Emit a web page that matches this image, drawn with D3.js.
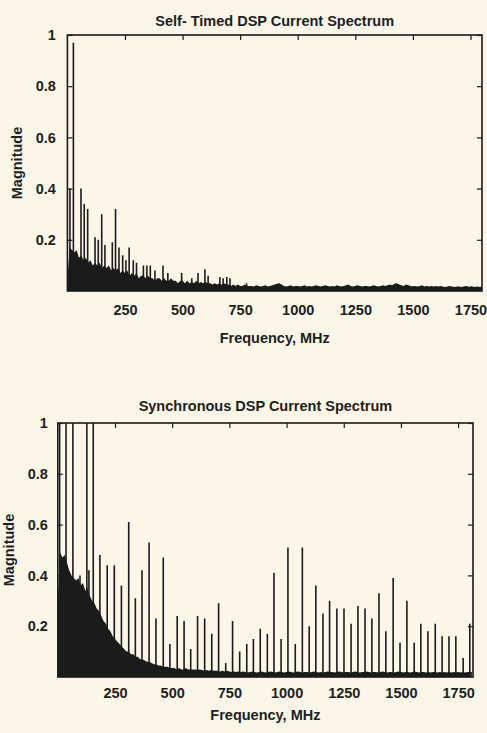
<!DOCTYPE html>
<html>
<head>
<meta charset="utf-8">
<script src="https://cdn.jsdelivr.net/npm/d3@7"></script>
<style>
    body { margin: 0; background: #fbf6e8; }
    svg { display: block; }
    text { font-family: "Liberation Sans", Arial, Helvetica, sans-serif; font-weight: bold; font-size: 14.5px; fill: #1e1e1e; }
</style>
</head>
<body>
<div id="chart"></div>
<script>
const INK = '#1b1b1b';
const FLOOR_STEP = 10; // MHz between noise-floor samples

const xTicks = [250, 500, 750, 1000, 1250, 1500, 1750];
const yTicks = [0.2, 0.4, 0.6, 0.8, 1];

// Self-timed DSP: discrete lines (MHz, magnitude)
const timedFreq = [11, 26, 59, 73, 88, 120, 134, 149, 163, 195, 209, 224, 240, 254, 268, 286, 300,
    330, 345, 360, 380, 415, 436, 496, 540, 567, 597, 611, 662, 676, 692, 706, 778];
const timedMag = [0.40, 0.97, 0.40, 0.34, 0.32, 0.21, 0.20, 0.30, 0.18, 0.19, 0.32, 0.17, 0.14, 0.12, 0.17, 0.12, 0.11,
    0.10, 0.10, 0.10, 0.08, 0.10, 0.07, 0.07, 0.05, 0.07, 0.085, 0.06, 0.055, 0.05, 0.055, 0.05, 0.03];

// Self-timed DSP: broadband floor, one value every 10 MHz from 0 to 1800
const timedFloor = [
    0.05, 0.17, 0.16, 0.15, 0.16, 0.13, 0.14, 0.12, 0.13, 0.11,
    0.12, 0.10, 0.11, 0.10, 0.11, 0.09, 0.10, 0.09, 0.10, 0.08,
    0.09, 0.08, 0.09, 0.07, 0.08, 0.07, 0.08, 0.06, 0.07, 0.06,
    0.07, 0.05, 0.06, 0.06, 0.05, 0.06, 0.05, 0.05, 0.04, 0.05,
    0.05, 0.04, 0.05, 0.04, 0.04, 0.05, 0.04, 0.04, 0.03, 0.04,
    0.04, 0.03, 0.04, 0.03, 0.035, 0.03, 0.04, 0.03, 0.035, 0.03,
    0.035, 0.03, 0.03, 0.025, 0.03, 0.025, 0.03, 0.025, 0.03, 0.025,
    0.025, 0.02, 0.025, 0.02, 0.025, 0.02, 0.02, 0.025, 0.02, 0.02,
    0.02, 0.018, 0.022, 0.02, 0.018, 0.02, 0.022, 0.018, 0.02, 0.022,
    0.025, 0.028, 0.03, 0.025, 0.02, 0.018, 0.02, 0.022, 0.018, 0.02,
    0.02, 0.018, 0.02, 0.022, 0.018, 0.02, 0.018, 0.02, 0.022, 0.02,
    0.018, 0.02, 0.022, 0.02, 0.018, 0.02, 0.018, 0.022, 0.02, 0.018,
    0.02, 0.022, 0.025, 0.02, 0.018, 0.02, 0.022, 0.02, 0.018, 0.02,
    0.02, 0.018, 0.02, 0.022, 0.02, 0.018, 0.02, 0.022, 0.02, 0.022,
    0.025, 0.022, 0.028, 0.03, 0.025, 0.022, 0.02, 0.025, 0.022, 0.02,
    0.018, 0.02, 0.018, 0.02, 0.022, 0.018, 0.02, 0.018, 0.02, 0.018,
    0.02, 0.018, 0.02, 0.018, 0.016, 0.018, 0.02, 0.018, 0.016, 0.018,
    0.018, 0.016, 0.018, 0.02, 0.018, 0.016, 0.018, 0.016, 0.018, 0.016,
    0.018
];

// Synchronous DSP: clock harmonics (MHz, magnitude); values above 1 run off the top
const syncFreq = [8, 36, 66, 97, 127, 136, 155, 184, 216, 247, 278, 310, 339, 368, 399, 429, 461, 490,
    522, 552, 581, 611, 642, 673, 703, 734, 764, 795, 826, 855, 885, 916, 945, 976, 1006, 1038,
    1069, 1099, 1128, 1159, 1188, 1220, 1251, 1282, 1312, 1343, 1373, 1404, 1434, 1466, 1496,
    1526, 1558, 1587, 1618, 1650, 1680, 1710, 1740, 1772, 1801];
const syncMag = [1.2, 1.3, 1.3, 0.40, 1.3, 0.42, 1.3, 0.48, 0.44, 0.44, 0.36, 0.61, 0.31, 0.42, 0.53, 0.23, 0.47, 0.13,
    0.24, 0.22, 0.11, 0.24, 0.23, 0.17, 0.29, 0.055, 0.22, 0.10, 0.13, 0.15, 0.19, 0.17, 0.41, 0.15, 0.51, 0.13,
    0.51, 0.20, 0.36, 0.25, 0.30, 0.27, 0.27, 0.21, 0.28, 0.27, 0.23, 0.33, 0.18, 0.39, 0.135,
    0.30, 0.135, 0.21, 0.18, 0.21, 0.16, 0.16, 0.16, 0.075, 0.21];

// Synchronous DSP: broadband floor, one value every 10 MHz from 0 to 1810
const syncFloor = [
    0.30, 0.49, 0.47, 0.48, 0.45, 0.42, 0.40, 0.39, 0.38, 0.39,
    0.36, 0.37, 0.34, 0.35, 0.32, 0.30, 0.29, 0.27, 0.26, 0.24,
    0.22, 0.21, 0.19, 0.18, 0.16, 0.15, 0.14, 0.13, 0.12, 0.11,
    0.10, 0.10, 0.09, 0.09, 0.08, 0.08, 0.07, 0.07, 0.065, 0.06,
    0.06, 0.055, 0.05, 0.05, 0.045, 0.045, 0.04, 0.04, 0.04, 0.035,
    0.035, 0.035, 0.03, 0.035, 0.03, 0.03, 0.035, 0.03, 0.03, 0.03,
    0.03, 0.028, 0.03, 0.028, 0.025, 0.028, 0.025, 0.028, 0.025, 0.025,
    0.025, 0.022, 0.025, 0.022, 0.025, 0.022, 0.02, 0.022, 0.02, 0.022,
    0.02, 0.022, 0.02, 0.018, 0.02, 0.022, 0.02, 0.018, 0.02, 0.022,
    0.02, 0.018, 0.02, 0.022, 0.02, 0.018, 0.02, 0.022, 0.02, 0.018,
    0.02, 0.022, 0.02, 0.018, 0.02, 0.022, 0.02, 0.018, 0.02, 0.02,
    0.018, 0.02, 0.022, 0.02, 0.018, 0.02, 0.018, 0.02, 0.022, 0.02,
    0.02, 0.018, 0.02, 0.022, 0.02, 0.018, 0.02, 0.02, 0.018, 0.02,
    0.022, 0.02, 0.018, 0.02, 0.02, 0.022, 0.02, 0.018, 0.02, 0.02,
    0.018, 0.02, 0.022, 0.02, 0.018, 0.02, 0.02, 0.018, 0.02, 0.022,
    0.02, 0.018, 0.02, 0.02, 0.018, 0.02, 0.022, 0.02, 0.018, 0.02,
    0.02, 0.018, 0.02, 0.018, 0.02, 0.02, 0.018, 0.02, 0.018, 0.02,
    0.018, 0.02, 0.018, 0.02, 0.018, 0.02, 0.018, 0.02, 0.018, 0.02,
    0.02, 0.02
];

const svg = d3.select('#chart').append('svg').attr('width', 487).attr('height', 733);

function spectrum(cfg) {
    const x = d3.scaleLinear().domain([0, cfg.xMax]).range([cfg.left, cfg.right]);
    const y = d3.scaleLinear().domain([0, 1]).range([cfg.bottom, cfg.top]);

    svg.append('clipPath').attr('id', cfg.id)
        .append('rect')
        .attr('x', cfg.left).attr('y', cfg.top)
        .attr('width', cfg.right - cfg.left).attr('height', cfg.bottom - cfg.top);

    const plot = svg.append('g').attr('clip-path', `url(#${cfg.id})`);

    // dense broadband floor
    const area = d3.area()
        .x((d, i) => x(i * FLOOR_STEP))
        .y0(y(0))
        .y1((d) => y(d));
    plot.append('path').datum(cfg.floor).attr('d', area).attr('fill', INK);

    // spectral lines
    plot.selectAll('line.stem')
        .data(d3.zip(cfg.freq, cfg.mag))
        .join('line')
        .attr('class', 'stem')
        .attr('x1', (d) => x(d[0])).attr('x2', (d) => x(d[0]))
        .attr('y1', y(0)).attr('y2', (d) => y(d[1]))
        .attr('stroke', INK).attr('stroke-width', 1.6);

    // axes, ticks pointing inward on all four sides
    const axes = svg.append('g').attr('color', INK);
    axes.append('g').attr('transform', `translate(0,${cfg.bottom})`)
        .call(d3.axisBottom(x).tickValues(xTicks).tickSize(-5).tickSizeOuter(0)
            .tickPadding(cfg.xPad).tickFormat(d3.format('d')));
    axes.append('g').attr('transform', `translate(0,${cfg.top})`)
        .call(d3.axisTop(x).tickValues(xTicks).tickSize(-5).tickSizeOuter(0).tickFormat(''));
    axes.append('g').attr('transform', `translate(${cfg.left},0)`)
        .call(d3.axisLeft(y).tickValues(yTicks).tickSize(-5).tickSizeOuter(0)
            .tickPadding(cfg.yPad).tickFormat(d3.format('~g')));
    axes.append('g').attr('transform', `translate(${cfg.right},0)`)
        .call(d3.axisRight(y).tickValues(yTicks).tickSize(-5).tickSizeOuter(0).tickFormat(''));
    axes.selectAll('.domain').remove();
    axes.selectAll('.tick line').attr('stroke-width', 1.2);
    axes.selectAll('g').attr('font-size', null).attr('font-family', null);

    axes.append('rect')
        .attr('x', cfg.left).attr('y', cfg.top)
        .attr('width', cfg.right - cfg.left).attr('height', cfg.bottom - cfg.top)
        .attr('fill', 'none').attr('stroke', INK).attr('stroke-width', 1.6);

    svg.append('text')
        .attr('x', (cfg.left + cfg.right) / 2).attr('y', cfg.titleY)
        .attr('text-anchor', 'middle')
        .text(cfg.title);

    svg.append('text')
        .attr('x', (cfg.left + cfg.right) / 2).attr('y', cfg.xLabelY)
        .attr('text-anchor', 'middle')
        .text('Frequency, MHz');

    svg.append('text')
        .attr('transform', `translate(${cfg.yLabelX},${(cfg.top + cfg.bottom) / 2}) rotate(-90)`)
        .attr('text-anchor', 'middle')
        .text('Magnitude');
}

spectrum({
    id: 'clip-timed',
    title: 'Self- Timed DSP Current Spectrum',
    freq: timedFreq, mag: timedMag, floor: timedFloor,
    xMax: 1800,
    left: 67.4, right: 482, top: 35, bottom: 291,
    xPad: 14, yPad: 11.5,
    titleY: 25.5, xLabelY: 343, yLabelX: 21.5
});

spectrum({
    id: 'clip-sync',
    title: 'Synchronous DSP Current Spectrum',
    freq: syncFreq, mag: syncMag, floor: syncFloor,
    xMax: 1815,
    left: 57.8, right: 473, top: 423, bottom: 677,
    xPad: 11, yPad: 10,
    titleY: 411, xLabelY: 720, yLabelX: 14
});
</script>
</body>
</html>
